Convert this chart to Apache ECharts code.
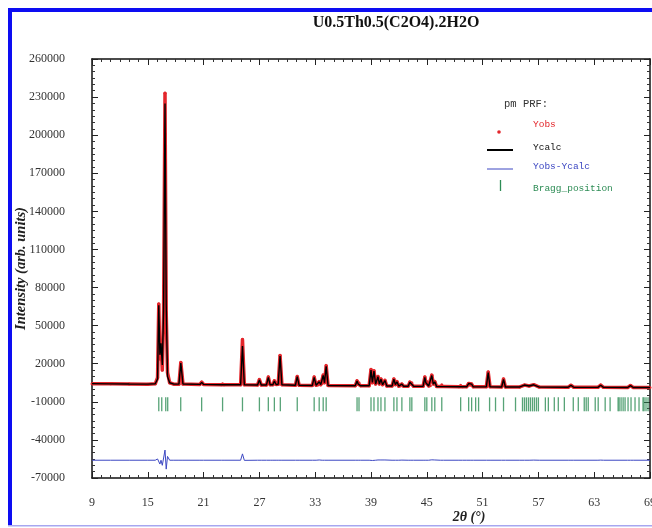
<!DOCTYPE html>
<html>
<head>
<meta charset="utf-8">
<script src="https://cdn.jsdelivr.net/npm/echarts@6/dist/echarts.min.js"></script>
<style>
  html, body { margin: 0; padding: 0; background: #fff; }
  #chart { width: 652px; height: 528px; }
</style>
</head>
<body>
<div id="chart"></div>
<script>
// Rietveld refinement profile of U0.5Th0.5(C2O4).2H2O
// Profile vertices: 2θ (deg), observed and calculated intensities
const twoTheta = [
  9.0, 11.0, 13.0, 15.0, 15.8,
  16.05, 16.18, 16.30, 16.42, 16.56, 16.70, 16.85, 16.98, 17.12, 17.35, 17.8,
  18.35, 18.55, 18.78,
  20.6, 20.8, 21.0,
  22.9, 23.04, 23.2,
  24.98, 25.18, 25.38,
  26.8, 27.0, 27.2,
  27.76, 27.96, 28.16, 28.45, 28.61, 28.8,
  29.02, 29.22, 29.42,
  30.87, 31.07, 31.27,
  32.69, 32.89, 33.1, 33.3, 33.43, 33.6, 33.75, 33.86, 34.0, 34.18, 34.38,
  37.3, 37.5, 37.62, 37.71, 37.9,
  38.8, 39.0, 39.15, 39.32, 39.5, 39.75, 39.9, 40.07, 40.25, 40.5, 40.7,
  41.26, 41.46, 41.62, 41.79, 41.98, 42.15, 42.32, 42.5,
  43.0, 43.18, 43.29, 43.39, 43.58,
  44.6, 44.79, 44.9, 45.0, 45.2, 45.38, 45.54, 45.7, 45.86, 46.05,
  46.45, 46.61, 46.8,
  48.45, 48.64, 48.85, 49.3, 49.5, 49.66, 49.82, 50.0,
  51.4, 51.6, 51.8,
  53.05, 53.25, 53.45,
  55.0, 55.5, 56.0, 56.5, 57.1,
  60.2, 60.5, 60.8,
  63.4, 63.7, 64.0,
  66.6, 66.9, 67.2,
  69.0
];
const yObs = [
  4300, 4150, 4000, 3900, 4200,
  9000, 67000, 24000, 36000, 15000, 60000, 233000, 60000, 13000, 5000, 3900,
  3900, 21000, 4000,
  3700, 5500, 3700,
  3500, 4300, 3500,
  3400, 39000, 3400,
  3300, 7500, 3300,
  3300, 9500, 3400, 3400, 6500, 3600,
  3800, 26500, 3500,
  3000, 10000, 3000,
  2900, 9500, 3000, 3200, 6000, 3500, 4500, 11000, 5000, 18500, 2900,
  2600, 6500, 4000, 5000, 2600,
  2600, 15500, 5000, 14500, 4000, 10000, 4000, 8000, 3500, 7000, 2500,
  2400, 8000, 3500, 6000, 2400, 2400, 4000, 2300,
  2300, 5500, 4000, 5000, 2200,
  2200, 9500, 5000, 6000, 2500, 2600, 11000, 4000, 6000, 2100,
  2000, 3500, 2000,
  1900, 3000, 1900, 1900, 4500, 3000, 4000, 1800,
  1800, 13500, 1800,
  1700, 8000, 1700,
  1700, 3200, 2500, 3500, 1600,
  1500, 3000, 1500,
  1400, 3200, 1400,
  1300, 2800, 1300,
  1300
];
const yCalc = [
  4300, 4150, 4000, 3900, 4200,
  8000, 66000, 27000, 36000, 19000, 63000, 225000, 67000, 10000, 5000, 3900,
  3900, 20500, 4000,
  3700, 5300, 3700,
  3500, 4200, 3500,
  3400, 34000, 3500,
  3300, 7200, 3300,
  3300, 9200, 3400, 3400, 6300, 3600,
  3800, 26000, 3500,
  3000, 9800, 3000,
  2900, 9300, 3000, 3200, 5800, 3500, 4500, 10800, 5000, 18000, 2900,
  2600, 6300, 4000, 5000, 2600,
  2600, 15000, 5200, 14200, 4000, 9800, 4000, 7800, 3500, 6800, 2500,
  2400, 7800, 3500, 5800, 2400, 2400, 3900, 2300,
  2300, 5400, 4000, 4900, 2200,
  2200, 9300, 5000, 6000, 2500, 2600, 10700, 4000, 5800, 2100,
  2000, 3400, 2000,
  1900, 3000, 1900, 1900, 4400, 3000, 3900, 1800,
  1800, 13000, 1800,
  1700, 7700, 1700,
  1700, 3200, 2500, 3400, 1600,
  1500, 3000, 1500,
  1400, 3100, 1400,
  1300, 2800, 1300,
  1300
];
// Reflection positions (2θ, deg)
const braggPositions = [
  16.18, 16.50, 16.93, 17.14, 18.54, 20.79, 23.04, 25.18, 27.0, 27.96, 28.61, 29.25,
  31.07, 32.89, 33.43, 33.86, 34.18, 37.5, 37.71, 39.0, 39.32, 39.75, 40.07, 40.5,
  41.46, 41.79, 42.32, 43.18, 43.39, 44.79, 45.0, 45.54, 45.86, 46.61, 48.64, 49.5,
  49.82, 50.25, 50.57, 51.75, 52.39, 53.25, 54.54, 55.29, 55.5, 55.71, 55.93, 56.14,
  56.36, 56.57, 56.79, 57.0, 57.75, 58.07, 58.71, 59.14, 59.79, 60.75, 61.29, 61.93,
  62.14, 62.36, 63.11, 63.43, 64.18, 64.71, 65.57, 65.68, 65.89, 66.11, 66.32, 66.64,
  66.96, 67.39, 67.82, 68.25, 68.36, 68.57, 68.79
];
// Axis ranges
const xRange = { min: 9, max: 69, step: 6 };
const yRange = { min: -70000, max: 260000, step: 30000 };
const diffOffset = -56000;   // difference curve is drawn shifted below the pattern
const braggLevel = -12000;   // row of reflection markers

const obsData = twoTheta.map((t, i) => [t, yObs[i]]);
const calcData = twoTheta.map((t, i) => [t, yCalc[i]]);
const diffData = twoTheta.map((t, i) => [t, diffOffset + (yObs[i] - yCalc[i])]);
const braggData = braggPositions.map(t => [t, braggLevel]);

const RED = '#e3262b', BLUE = '#3c47c2', GREEN = '#2d8c55';
const serif = '"Liberation Serif", "Times New Roman", serif';
const mono = '"Liberation Mono", "DejaVu Sans Mono", monospace';

const chart = echarts.init(document.getElementById('chart'), null, { renderer: 'canvas' });

const frameAxis = {
  axisLine: { show: true, onZero: false, lineStyle: { color: '#111', width: 1.5 } },
  axisTick: { show: true, inside: true, length: 6, lineStyle: { color: '#222', width: 1 } },
  minorTick: { show: true, splitNumber: 6, length: 3, lineStyle: { color: '#333', width: 1 } },
  splitLine: { show: false }
};

chart.setOption({
  animation: false,
  backgroundColor: '#fff',
  title: {
    text: 'U0.5Th0.5(C2O4).2H2O',
    left: 391, top: 10, textAlign: 'center',
    textStyle: { fontFamily: serif, fontWeight: 'bold', fontSize: 16, color: '#111' }
  },
  grid: { left: 92, right: 2, top: 59, bottom: 50, containLabel: false, outerBoundsMode: 'none' },
  xAxis: [
    Object.assign({
      type: 'value', min: xRange.min, max: xRange.max, interval: xRange.step,
      axisLabel: { margin: 19, fontFamily: serif, fontSize: 12, color: '#333', formatter: v => String(v) }
    }, frameAxis),
    Object.assign({
      type: 'value', position: 'top', min: xRange.min, max: xRange.max, interval: xRange.step,
      axisLabel: { show: false }
    }, frameAxis)
  ],
  yAxis: [
    Object.assign({
      type: 'value', min: yRange.min, max: yRange.max, interval: yRange.step,
      name: 'Intensity (arb. units)', nameLocation: 'middle', nameGap: 63, nameMoveOverlap: false,
      nameTextStyle: { fontFamily: serif, fontWeight: 'bold', fontStyle: 'italic', fontSize: 14.5, color: '#222' },
      axisLabel: { margin: 27, fontFamily: serif, fontSize: 12, color: '#333', formatter: v => String(v) }
    }, frameAxis),
    Object.assign({
      type: 'value', position: 'right', min: yRange.min, max: yRange.max, interval: yRange.step,
      axisLabel: { show: false }
    }, frameAxis)
  ],
  series: [
    {
      name: 'Yobs', type: 'line', data: obsData,
      symbol: 'circle', symbolSize: 3, showSymbol: true,
      itemStyle: { color: RED },
      lineStyle: { color: RED, width: 3.5, join: 'round' },
      z: 2
    },
    {
      name: 'Ycalc', type: 'line', data: calcData, showSymbol: false,
      lineStyle: { color: '#000', width: 1.4 },
      z: 3
    },
    {
      name: 'Yobs-Ycalc', type: 'line', data: diffData, showSymbol: false,
      lineStyle: { color: BLUE, width: 1 },
      z: 3
    },
    {
      name: 'Bragg_position', type: 'scatter', data: braggData,
      symbol: 'rect', symbolSize: [1.3, 14],
      itemStyle: { color: GREEN },
      z: 3
    }
  ],
  graphic: [
    // page border
    { type: 'rect', shape: { x: 8, y: 8, width: 644, height: 4 }, style: { fill: '#0d0df2' }, z: 100 },
    { type: 'rect', shape: { x: 8, y: 8, width: 4, height: 518 }, style: { fill: '#0d0df2' }, z: 100 },
    { type: 'rect', shape: { x: 8, y: 525, width: 644, height: 1.5 }, style: { fill: '#a7a7f0' }, z: 100 },
    // x-axis title
    { type: 'text', x: 469, y: 517, style: { text: '2θ (°)', fontFamily: serif, fontWeight: 'bold', fontStyle: 'italic', fontSize: 14, fill: '#222', align: 'center', verticalAlign: 'middle' } },
    // key
    { type: 'text', x: 504, y: 104, style: { text: 'pm PRF:', fontFamily: mono, fontSize: 10.5, fill: '#333', verticalAlign: 'middle' } },
    { type: 'circle', shape: { cx: 499, cy: 132, r: 1.8 }, style: { fill: RED } },
    { type: 'text', x: 533, y: 124, style: { text: 'Yobs', fontFamily: mono, fontSize: 9.5, fill: RED, verticalAlign: 'middle' } },
    { type: 'line', shape: { x1: 487, y1: 150, x2: 513, y2: 150 }, style: { stroke: '#000', lineWidth: 2 } },
    { type: 'text', x: 533, y: 147, style: { text: 'Ycalc', fontFamily: mono, fontSize: 9.5, fill: '#111', verticalAlign: 'middle' } },
    { type: 'line', shape: { x1: 487, y1: 169, x2: 513, y2: 169 }, style: { stroke: BLUE, lineWidth: 1 } },
    { type: 'text', x: 533, y: 166, style: { text: 'Yobs-Ycalc', fontFamily: mono, fontSize: 9.5, fill: BLUE, verticalAlign: 'middle' } },
    { type: 'line', shape: { x1: 500.5, y1: 180, x2: 500.5, y2: 191 }, style: { stroke: GREEN, lineWidth: 1.3 } },
    { type: 'text', x: 533, y: 188, style: { text: 'Bragg_position', fontFamily: mono, fontSize: 9.5, fill: GREEN, verticalAlign: 'middle' } }
  ]
});
</script>
</body>
</html>
